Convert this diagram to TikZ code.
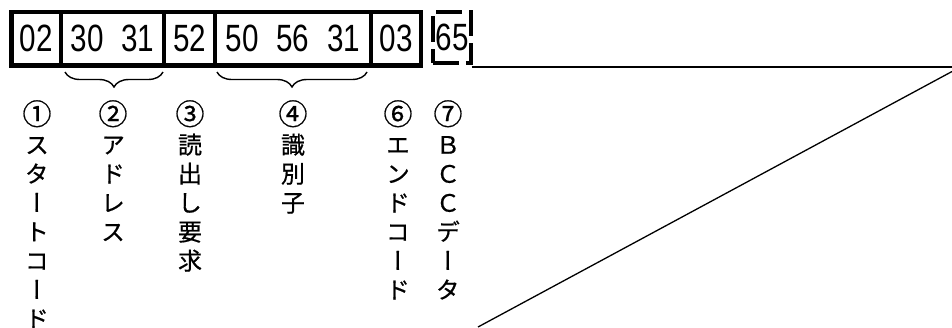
\documentclass[tikz,border=0pt]{standalone}
\usepackage{fontspec}
\newfontfamily\bytefont[FakeStretch=0.78]{Liberation Sans}
\newfontfamily\jpfont[RawFeature=+vert, FakeBold=0.6]{Noto Sans CJK JP}
\usetikzlibrary{decorations.pathreplacing}

\newcommand{\bytegap}{\hspace{18pt}}
\newcommand{\fieldno}[1]{{\fontsize{29}{29}\selectfont #1}}

\begin{document}
\begin{tikzpicture}[x=1pt, y=-1pt,
  cell/.style={draw, line width=4.5pt, minimum height=53.5pt, inner sep=0pt, font=\fontsize{38}{38}\selectfont\bytefont},
  bccbox/.style={dash pattern=on 26pt off 7pt, line width=4pt},
  field/.style={anchor=north, align=center, inner sep=0pt, font=\fontsize{24}{29}\selectfont\jpfont},
  brace/.style={decorate, decoration={brace, mirror, amplitude=15pt}, line width=1.4pt},
  zoomline/.style={line width=1.3pt}]

\useasboundingbox (0,0) rectangle (952,327);

% frame bytes
\node (start)   at (36.35, 38.75) [cell, minimum width=49.3pt] {02};
\node (address) at (112.5, 38.75) [cell, minimum width=103pt]  {30\bytegap31};
\node (command) at (189.5, 38.75) [cell, minimum width=51pt]   {52};
\node (ident)   at (293, 38.75)   [cell, minimum width=156pt]  {50\bytegap56\bytegap31};
\node (stop)    at (396, 38.75)   [cell, minimum width=50pt]   {03};
\node (bcc)     at (452, 37.5)    [cell, bccbox, minimum width=38.5pt, minimum height=51pt] {65};

% braces
\draw[brace] (65, 72) -- (163, 72);
\draw[brace] (217, 72) -- (367, 72);

% field names
\node (field1) at (37, 100)  [field] {\fieldno{①}\\ス\\タ\\ー\\ト\\コ\\ー\\ド};
\node (field2) at (113, 100) [field] {\fieldno{②}\\ア\\ド\\レ\\ス};
\node (field3) at (190, 100) [field] {\fieldno{③}\\読\\出\\し\\要\\求};
\node (field4) at (293, 100) [field] {\fieldno{④}\\識\\別\\子};
\node (field6) at (398, 100) [field] {\fieldno{⑥}\\エ\\ン\\ド\\コ\\ー\\ド};
\node (field7) at (448, 100) [field] {\fieldno{⑦}\\Ｂ\\Ｃ\\Ｃ\\デ\\ー\\タ};

% zoom lines
\coordinate (zoomstart) at (471.5, 67);
\coordinate (zoomedge)  at (952, 67);
\coordinate (zoomtip)   at (952, 71.5);
\coordinate (zoomfoot)  at (478, 327);
\draw[zoomline] (zoomstart) -- (zoomedge);
\draw[zoomline] (zoomtip) -- (zoomfoot);

\end{tikzpicture}
\end{document}
